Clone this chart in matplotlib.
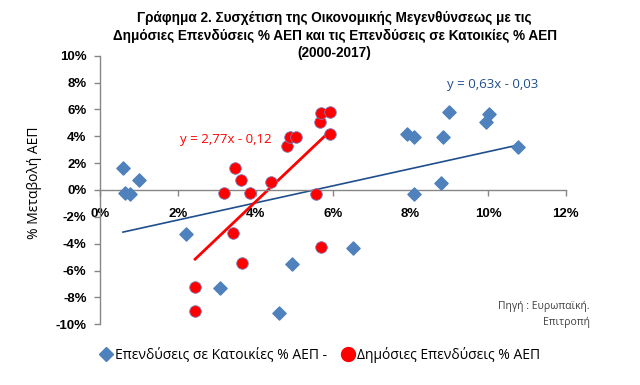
import numpy as np
import matplotlib
matplotlib.use("Agg")
import matplotlib.pyplot as plt
from matplotlib.ticker import FuncFormatter, MultipleLocator
from matplotlib.lines import Line2D

# Επενδύσεις σε Κατοικίες % ΑΕΠ (x) vs μεταβολή ΑΕΠ (y)
house_x = [0.58, 0.64, 0.76, 1.00, 2.20, 3.08, 4.60, 4.94, 6.51,
           7.90, 8.09, 8.84, 8.99, 10.02, 9.95, 10.78, 8.78, 8.09]
house_y = [1.62, -0.25, -0.32, 0.75, -3.28, -7.34, -9.20, -5.52, -4.35,
           4.15, 3.93, 3.93, 5.85, 5.67, 5.07, 3.23, 0.55, -0.30]

# Δημόσιες Επενδύσεις % ΑΕΠ (x) vs μεταβολή ΑΕΠ (y)
pub_x = [3.19, 3.41, 3.48, 3.63, 3.65, 3.85, 2.45, 2.44, 4.39,
         4.82, 4.88, 5.05, 5.56, 5.66, 5.70, 5.69, 5.93, 5.93]
pub_y = [-0.22, -3.18, 1.67, 0.75, -5.42, -0.22, -7.21, -9.00, 0.62,
         3.31, 3.98, 3.98, -0.27, 5.07, 5.72, -4.23, 5.85, 4.18]

house_x = np.array(house_x) / 100; house_y = np.array(house_y) / 100
pub_x = np.array(pub_x) / 100; pub_y = np.array(pub_y) / 100

title = ("Γράφημα 2. Συσχέτιση της Οικονομικής Μεγενθύνσεως με τις\n"
         "Δημόσιες Επενδύσεις % ΑΕΠ και τις Επενδύσεις σε Κατοικίες % ΑΕΠ\n"
         "(2000-2017)")
lab_house = "Επενδύσεις σε Κατοικίες % ΑΕΠ -"
lab_pub = "Δημόσιες Επενδύσεις % ΑΕΠ"
eq_house = "y = 0,63x - 0,03"
eq_pub = "y = 2,77x - 0,12"

BLUE = "#4F81BD"
NAVY = "#1F4E8C"
RED = "#FF0000"
GREY = "#868686"
SANS = ["Liberation Sans", "DejaVu Sans"]
SOFT = ["Open Sans", "DejaVu Sans"]

fig = plt.figure(figsize=(6.4, 3.85), dpi=100)
ax = fig.add_axes([0.157, 0.158, 0.727, 0.697])

ax.scatter(house_x, house_y, marker="D", s=45, color=BLUE, zorder=3)
ax.scatter(pub_x, pub_y, marker="o", s=70, color=RED,
           edgecolors="#7F7FB8", linewidths=0.6, zorder=4)

# linear trend lines
for xs, ys, col, lw in [(house_x, house_y, NAVY, 1.2), (pub_x, pub_y, RED, 2.0)]:
    k, b = np.polyfit(xs, ys, 1)
    xx = np.array([xs.min(), xs.max()])
    ax.plot(xx, k * xx + b, color=col, lw=lw, zorder=2)

ax.set_xlim(0, 0.12)
ax.set_ylim(-0.10, 0.10)
ax.xaxis.set_major_locator(MultipleLocator(0.02))
ax.yaxis.set_major_locator(MultipleLocator(0.02))
pct = FuncFormatter(lambda v, p: f"{round(v * 100) + 0:d}%")
ax.xaxis.set_major_formatter(pct)
ax.yaxis.set_major_formatter(pct)

for s in ["top", "right"]:
    ax.spines[s].set_visible(False)
ax.spines["bottom"].set_position(("data", 0))
for s in ["left", "bottom"]:
    ax.spines[s].set_color(GREY)
    ax.spines[s].set_linewidth(1.0)
ax.tick_params(axis="both", direction="out", length=4, color=GREY, width=1.0)
ax.tick_params(axis="x", pad=9)
ax.tick_params(axis="y", pad=6)
for t in ax.get_xticklabels() + ax.get_yticklabels():
    t.set_fontfamily(SANS); t.set_fontweight("bold"); t.set_fontsize(9.5)

ax.set_ylabel("% Μεταβολή ΑΕΠ", family=SOFT, fontsize=10)
ax.yaxis.set_label_coords(-0.125, 0.526)

fig.text(0.523, 0.972, title, ha="center", va="top", family=SANS,
         fontsize=9.8, fontweight="bold", linespacing=1.35)

ax.text(0.0893, 0.079, eq_house, color=NAVY, family=SOFT, fontsize=9.5, va="center")
ax.text(0.0206, 0.0375, eq_pub, color=RED, family=SOFT, fontsize=9.5, va="center")

fig.text(0.922, 0.205, "Πηγή : Ευρωπαϊκή.", ha="right", va="center",
         family=SOFT, fontsize=7.5, color="#404040")
fig.text(0.922, 0.163, "Επιτροπή", ha="right", va="center",
         family=SOFT, fontsize=7.5, color="#404040")

handles = [Line2D([], [], ls="", marker="D", ms=7, color=BLUE),
           Line2D([], [], ls="", marker="o", ms=10, color=RED)]
fig.legend(handles, [lab_house, lab_pub], loc="center", bbox_to_anchor=(0.50, 0.078),
           ncol=2, frameon=False, handletextpad=0.2, columnspacing=1.0,
           handlelength=0.9, prop={"family": SOFT, "size": 10})

fig.savefig("out.png", dpi=100)
